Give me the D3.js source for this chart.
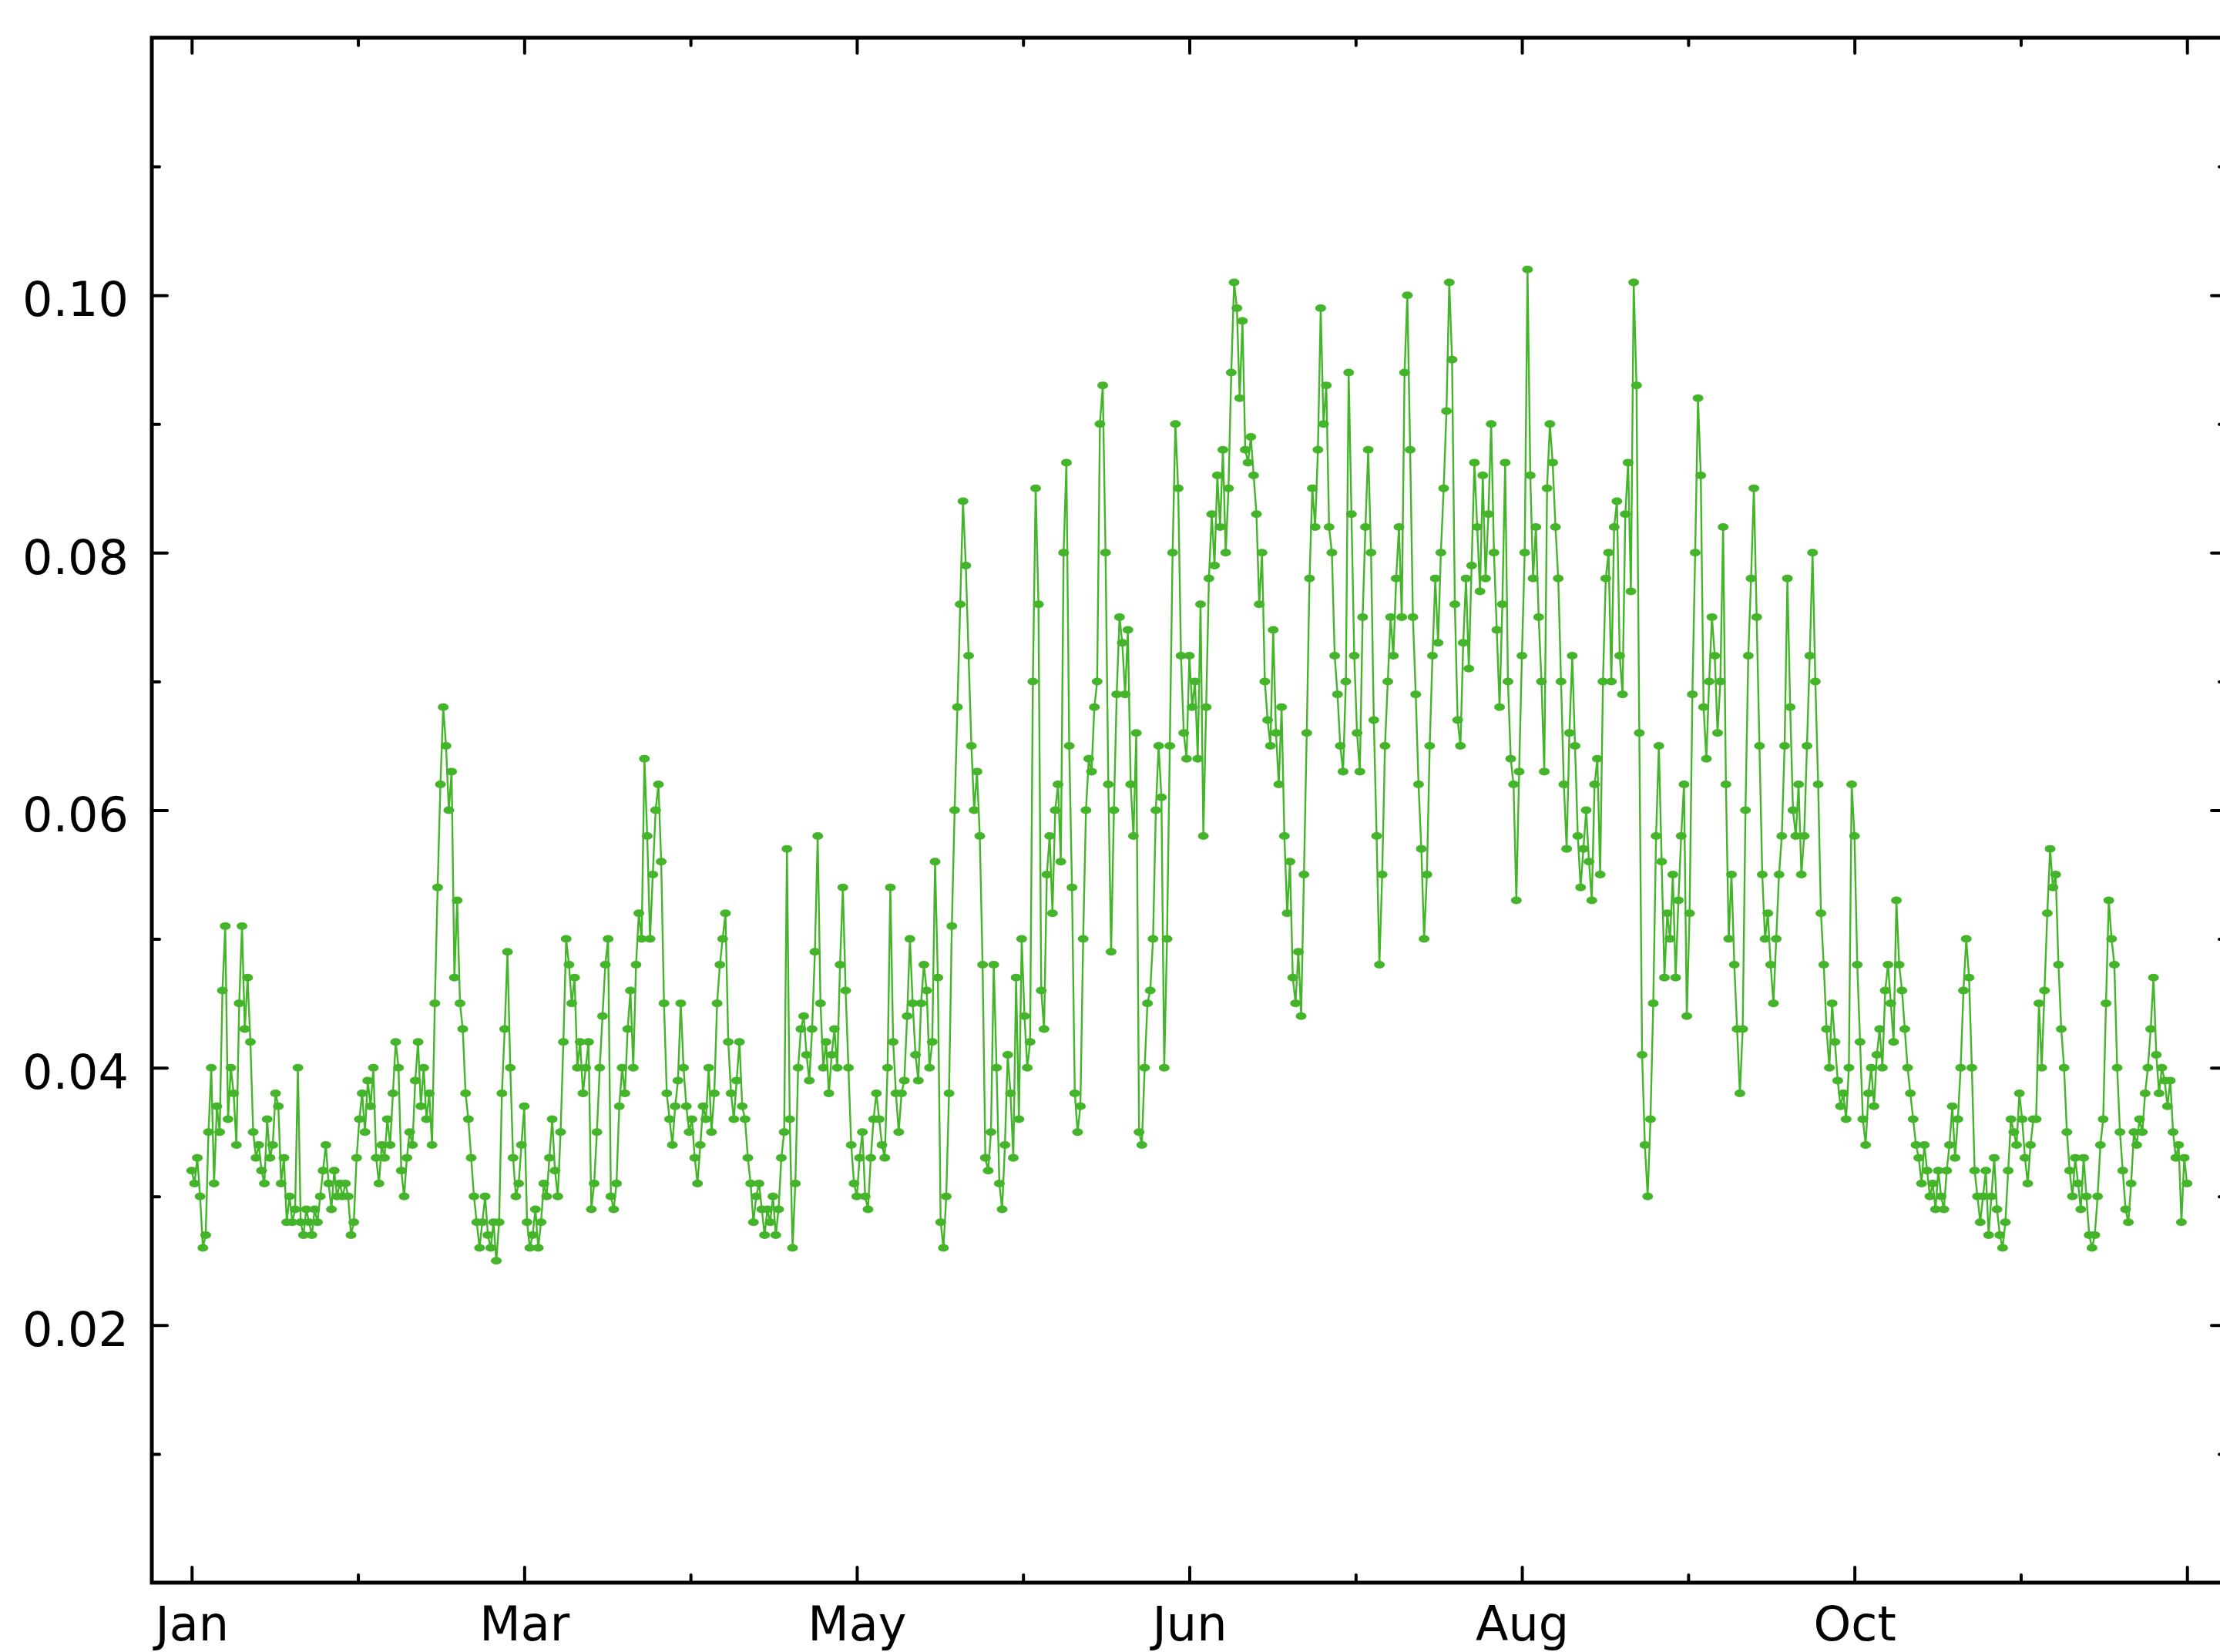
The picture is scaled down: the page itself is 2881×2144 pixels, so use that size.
<!DOCTYPE html>
<html>
<head>
<meta charset="utf-8">
<script src="https://cdn.jsdelivr.net/npm/d3@7"></script>
<style>
  html, body { margin: 0; padding: 0; background: #fff; }
  svg { display: block; }
  text { font-family: "DejaVu Sans", sans-serif; }
</style>
</head>
<body>
<div id="chart"></div>
<script>
// readings about every 12 hours, Jan 1 to late Dec, one array per 60-day stretch
var janMar = [
  0.032,0.031,0.033,0.030,0.026,0.027,0.035,0.040,0.031,0.037,0.035,0.046,0.051,0.036,0.040,0.038,0.034,0.045,0.051,0.043,
  0.047,0.042,0.035,0.033,0.034,0.032,0.031,0.036,0.033,0.034,0.038,0.037,0.031,0.033,0.028,0.030,0.028,0.029,0.040,0.028,
  0.027,0.029,0.028,0.027,0.029,0.028,0.030,0.032,0.034,0.031,0.029,0.032,0.030,0.031,0.030,0.031,0.030,0.027,0.028,0.033,
  0.036,0.038,0.035,0.039,0.037,0.040,0.033,0.031,0.034,0.033,0.036,0.034,0.038,0.042,0.040,0.032,0.030,0.033,0.035,0.034,
  0.039,0.042,0.037,0.040,0.036,0.038,0.034,0.045,0.054,0.062,0.068,0.065,0.060,0.063,0.047,0.053,0.045,0.043,0.038,0.036,
  0.033,0.030,0.028,0.026,0.028,0.030,0.027,0.026,0.028,0.025,0.028,0.038,0.043,0.049,0.040,0.033,0.030,0.031,0.034,0.037
];
var marMay = [
  0.028,0.026,0.027,0.029,0.026,0.028,0.031,0.030,0.033,0.036,0.032,0.030,0.035,0.042,0.050,0.048,0.045,0.047,0.040,0.042,
  0.038,0.040,0.042,0.029,0.031,0.035,0.040,0.044,0.048,0.050,0.030,0.029,0.031,0.037,0.040,0.038,0.043,0.046,0.040,0.048,
  0.052,0.050,0.064,0.058,0.050,0.055,0.060,0.062,0.056,0.045,0.038,0.036,0.034,0.037,0.039,0.045,0.040,0.037,0.035,0.036,
  0.033,0.031,0.034,0.037,0.036,0.040,0.035,0.038,0.045,0.048,0.050,0.052,0.042,0.038,0.036,0.039,0.042,0.037,0.036,0.033,
  0.031,0.028,0.030,0.031,0.029,0.027,0.029,0.028,0.030,0.027,0.029,0.033,0.035,0.057,0.036,0.026,0.031,0.040,0.043,0.044,
  0.041,0.039,0.043,0.049,0.058,0.045,0.040,0.042,0.038,0.041,0.043,0.040,0.048,0.054,0.046,0.040,0.034,0.031,0.030,0.033
];
var mayJun = [
  0.035,0.030,0.029,0.033,0.036,0.038,0.036,0.034,0.033,0.040,0.054,0.042,0.038,0.035,0.038,0.039,0.044,0.050,0.045,0.041,
  0.039,0.045,0.048,0.046,0.040,0.042,0.056,0.047,0.028,0.026,0.030,0.038,0.051,0.060,0.068,0.076,0.084,0.079,0.072,0.065,
  0.060,0.063,0.058,0.048,0.033,0.032,0.035,0.048,0.040,0.031,0.029,0.034,0.041,0.038,0.033,0.047,0.036,0.050,0.044,0.040,
  0.042,0.070,0.085,0.076,0.046,0.043,0.055,0.058,0.052,0.060,0.062,0.056,0.080,0.087,0.065,0.054,0.038,0.035,0.037,0.050,
  0.060,0.064,0.063,0.068,0.070,0.090,0.093,0.080,0.062,0.049,0.060,0.069,0.075,0.073,0.069,0.074,0.062,0.058,0.066,0.035,
  0.034,0.040,0.045,0.046,0.050,0.060,0.065,0.061,0.040,0.050,0.065,0.080,0.090,0.085,0.072,0.066,0.064,0.072,0.068,0.070
];
var junAug = [
  0.064,0.076,0.058,0.068,0.078,0.083,0.079,0.086,0.082,0.088,0.080,0.085,0.094,0.101,0.099,0.092,0.098,0.088,0.087,0.089,
  0.086,0.083,0.076,0.080,0.070,0.067,0.065,0.074,0.066,0.062,0.068,0.058,0.052,0.056,0.047,0.045,0.049,0.044,0.055,0.066,
  0.078,0.085,0.082,0.088,0.099,0.090,0.093,0.082,0.080,0.072,0.069,0.065,0.063,0.070,0.094,0.083,0.072,0.066,0.063,0.075,
  0.082,0.088,0.080,0.067,0.058,0.048,0.055,0.065,0.070,0.075,0.072,0.078,0.082,0.075,0.094,0.100,0.088,0.075,0.069,0.062,
  0.057,0.050,0.055,0.065,0.072,0.078,0.073,0.080,0.085,0.091,0.101,0.095,0.076,0.067,0.065,0.073,0.078,0.071,0.079,0.087,
  0.082,0.077,0.086,0.078,0.083,0.090,0.080,0.074,0.068,0.076,0.087,0.070,0.064,0.062,0.053,0.063,0.072,0.080,0.102,0.086
];
var augOct = [
  0.078,0.082,0.075,0.070,0.063,0.085,0.090,0.087,0.082,0.078,0.070,0.062,0.057,0.066,0.072,0.065,0.058,0.054,0.057,0.060,
  0.056,0.053,0.062,0.064,0.055,0.070,0.078,0.080,0.070,0.082,0.084,0.072,0.069,0.083,0.087,0.077,0.101,0.093,0.066,0.041,
  0.034,0.030,0.036,0.045,0.058,0.065,0.056,0.047,0.052,0.050,0.055,0.047,0.053,0.058,0.062,0.044,0.052,0.069,0.080,0.092,
  0.086,0.068,0.064,0.070,0.075,0.072,0.066,0.070,0.082,0.062,0.050,0.055,0.048,0.043,0.038,0.043,0.060,0.072,0.078,0.085,
  0.075,0.065,0.055,0.050,0.052,0.048,0.045,0.050,0.055,0.058,0.065,0.078,0.068,0.060,0.058,0.062,0.055,0.058,0.065,0.072,
  0.080,0.070,0.062,0.052,0.048,0.043,0.040,0.045,0.042,0.039,0.037,0.038,0.036,0.040,0.062,0.058,0.048,0.042,0.036,0.034
];
var octDec = [
  0.038,0.040,0.037,0.041,0.043,0.040,0.046,0.048,0.045,0.042,0.053,0.048,0.046,0.043,0.040,0.038,0.036,0.034,0.033,0.031,
  0.034,0.032,0.030,0.031,0.029,0.032,0.030,0.029,0.032,0.034,0.037,0.033,0.036,0.040,0.046,0.050,0.047,0.040,0.032,0.030,
  0.028,0.030,0.032,0.027,0.030,0.033,0.029,0.027,0.026,0.028,0.032,0.036,0.035,0.034,0.038,0.036,0.033,0.031,0.034,0.036,
  0.036,0.045,0.040,0.046,0.052,0.057,0.054,0.055,0.048,0.043,0.040,0.035,0.032,0.030,0.033,0.031,0.029,0.033,0.030,0.027,
  0.026,0.027,0.030,0.034,0.036,0.045,0.053,0.050,0.048,0.040,0.035,0.032,0.029,0.028,0.031,0.035,0.034,0.036,0.035,0.038,
  0.040,0.043,0.047,0.041,0.038,0.040,0.039,0.037,0.039,0.035,0.033,0.034,0.028,0.033,0.031
];

// first and last reading, in days after Jan 1
var firstDay = 0, lastDay = 360;

var xMajorDays = [0, 60, 120, 180, 240, 300, 360];
var xMajorLabels = ["Jan", "Mar", "May", "Jun", "Aug", "Oct", ""];
var xMinorDays = [30, 90, 150, 210, 270, 330];
var yMajorValues = [0.02, 0.04, 0.06, 0.08, 0.10];
var yMajorLabels = ["0.02", "0.04", "0.06", "0.08", "0.10"];
var yMinorValues = [0.01, 0.03, 0.05, 0.07, 0.09, 0.11];

var width = 2881, height = 2144;
var plotLeft = 197, plotRight = 2890, plotTop = 49, plotBottom = 2054;
var green = "#44b52a";

var values = [].concat(janMar, marMay, mayJun, junAug, augOct, octDec);
var step = (lastDay - firstDay) / (values.length - 1);
var data = values.map(function (v, i) { return { day: firstDay + i * step, value: v }; });

var pad = (lastDay - firstDay) * 0.02;
var x = d3.scaleLinear().domain([firstDay - pad, lastDay + pad]).range([plotLeft, plotRight]);
var y = d3.scaleLinear().domain([0, 0.12]).range([plotBottom, plotTop]);

var svg = d3.select("#chart").append("svg")
	.attr("width", width)
	.attr("height", height);

svg.append("rect")
	.attr("width", width)
	.attr("height", height)
	.attr("fill", "#fff");

// series: thin line plus small oval markers
var plot = svg.append("g");
plot.append("path")
	.datum(data)
	.attr("fill", "none")
	.attr("stroke", green)
	.attr("stroke-width", 2.4)
	.attr("stroke-linejoin", "round")
	.attr("d", d3.line()
		.x(function (d) { return x(d.day); })
		.y(function (d) { return y(d.value); }));

plot.selectAll("ellipse")
	.data(data)
	.enter().append("ellipse")
	.attr("cx", function (d) { return x(d.day); })
	.attr("cy", function (d) { return y(d.value); })
	.attr("rx", 7)
	.attr("ry", 5)
	.attr("fill", green);

// axes: ticks point inward on all four sides
function styleAxis(g) {
	g.select(".domain").remove();
	g.selectAll(".tick line")
		.attr("stroke", "#000")
		.attr("stroke-width", 4)
		.attr("stroke-linecap", "round");
	g.selectAll(".tick text")
		.attr("fill", "#000")
		.style("font-family", "'DejaVu Sans', sans-serif")
		.style("font-size", "62px");
}

svg.append("g")
	.attr("transform", "translate(0," + plotBottom + ")")
	.call(d3.axisBottom(x).tickValues(xMajorDays).tickSize(-20).tickPadding(31)
		.tickFormat(function (d, i) { return xMajorLabels[i]; }))
	.call(styleAxis);
svg.append("g")
	.attr("transform", "translate(0," + plotBottom + ")")
	.call(d3.axisBottom(x).tickValues(xMinorDays).tickSize(-10).tickFormat(""))
	.call(styleAxis);
svg.append("g")
	.attr("transform", "translate(0," + plotTop + ")")
	.call(d3.axisTop(x).tickValues(xMajorDays).tickSize(-20).tickFormat(""))
	.call(styleAxis);
svg.append("g")
	.attr("transform", "translate(0," + plotTop + ")")
	.call(d3.axisTop(x).tickValues(xMinorDays).tickSize(-10).tickFormat(""))
	.call(styleAxis);

svg.append("g")
	.attr("transform", "translate(" + plotLeft + ",0)")
	.call(d3.axisLeft(y).tickValues(yMajorValues).tickSize(-20).tickPadding(30)
		.tickFormat(function (d, i) { return yMajorLabels[i]; }))
	.call(styleAxis)
	.selectAll(".tick text").attr("dy", "0.43em");
svg.append("g")
	.attr("transform", "translate(" + plotLeft + ",0)")
	.call(d3.axisLeft(y).tickValues(yMinorValues).tickSize(-10).tickFormat(""))
	.call(styleAxis);
svg.append("g")
	.attr("transform", "translate(" + plotRight + ",0)")
	.call(d3.axisRight(y).tickValues(yMajorValues).tickSize(-20).tickFormat(""))
	.call(styleAxis);
svg.append("g")
	.attr("transform", "translate(" + plotRight + ",0)")
	.call(d3.axisRight(y).tickValues(yMinorValues).tickSize(-10).tickFormat(""))
	.call(styleAxis);

// box frame
svg.append("rect")
	.attr("x", plotLeft)
	.attr("y", plotTop)
	.attr("width", plotRight - plotLeft)
	.attr("height", plotBottom - plotTop)
	.attr("fill", "none")
	.attr("stroke", "#000")
	.attr("stroke-width", 5);
</script>
</body>
</html>
